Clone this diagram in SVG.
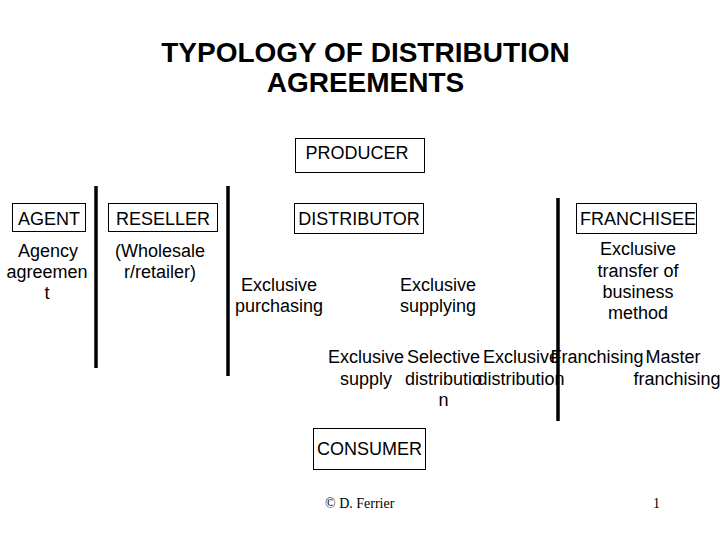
<svg xmlns="http://www.w3.org/2000/svg" width="720" height="540" viewBox="0 0 720 540">
<style>
text{font-family:"Liberation Sans",Arial,sans-serif;font-size:18px;fill:#000;text-anchor:middle}
.title{font-size:28px;font-weight:bold}
.box{fill:#fff;stroke:#000;stroke-width:1}
.sep{stroke:#000;stroke-width:3.5}
.foot{font-family:"Liberation Serif","Times New Roman",serif;font-size:14px;text-anchor:start}
</style>
<rect width="720" height="540" fill="#fff"/>
<g id="title">
<text class="title" x="365.5" y="62">TYPOLOGY OF DISTRIBUTION</text>
<text class="title" x="365.5" y="92">AGREEMENTS</text>
</g>
<g id="connectors">
<line class="sep" x1="96" y1="186" x2="96" y2="368"/>
<line class="sep" x1="228" y1="186" x2="228" y2="376"/>
<line class="sep" x1="558" y1="198" x2="558" y2="421"/>
</g>
<g id="producer">
<rect class="box" x="295.5" y="138.5" width="129" height="34"/>
<text x="357" y="159">PRODUCER</text>
</g>
<g id="agent">
<rect class="box" x="12.5" y="203.5" width="73" height="28"/>
<text x="49" y="225">AGENT</text>
<text x="48" y="257">Agency</text>
<text x="47" y="278">agreemen</text>
<text x="47" y="299">t</text>
</g>
<g id="reseller">
<rect class="box" x="108.5" y="203.5" width="109" height="28"/>
<text x="163" y="225">RESELLER</text>
<text x="160" y="257">(Wholesale</text>
<text x="160" y="278">r/retailer)</text>
</g>
<g id="distributor">
<rect class="box" x="294.5" y="203.5" width="129" height="30"/>
<text x="359" y="225">DISTRIBUTOR</text>
<text x="279" y="291">Exclusive</text>
<text x="279" y="312">purchasing</text>
<text x="438" y="291">Exclusive</text>
<text x="438" y="312">supplying</text>
</g>
<g id="franchisee">
<rect class="box" x="576.5" y="203.5" width="120" height="30"/>
<text x="638" y="225">FRANCHISEE</text>
<text x="638" y="255">Exclusive</text>
<text x="638" y="277">transfer of</text>
<text x="638" y="298">business</text>
<text x="638" y="319">method</text>
</g>
<g id="types">
<text x="366" y="363">Exclusive</text>
<text x="366" y="385">supply</text>
<text x="443.5" y="363">Selective</text>
<text x="443.5" y="385">distributio</text>
<text x="443.5" y="406">n</text>
<text x="521" y="363">Exclusive</text>
<text x="521" y="385">distribution</text>
<text x="597" y="363">Franchising</text>
<text x="673" y="363">Master</text>
<text x="677" y="385">franchising</text>
</g>
<g id="consumer">
<rect class="box" x="313.5" y="428.5" width="112" height="41"/>
<text x="369.5" y="455">CONSUMER</text>
</g>
<g id="footer">
<text class="foot" x="325" y="508">© D. Ferrier</text>
<text class="foot" x="653" y="508">1</text>
</g>
</svg>
